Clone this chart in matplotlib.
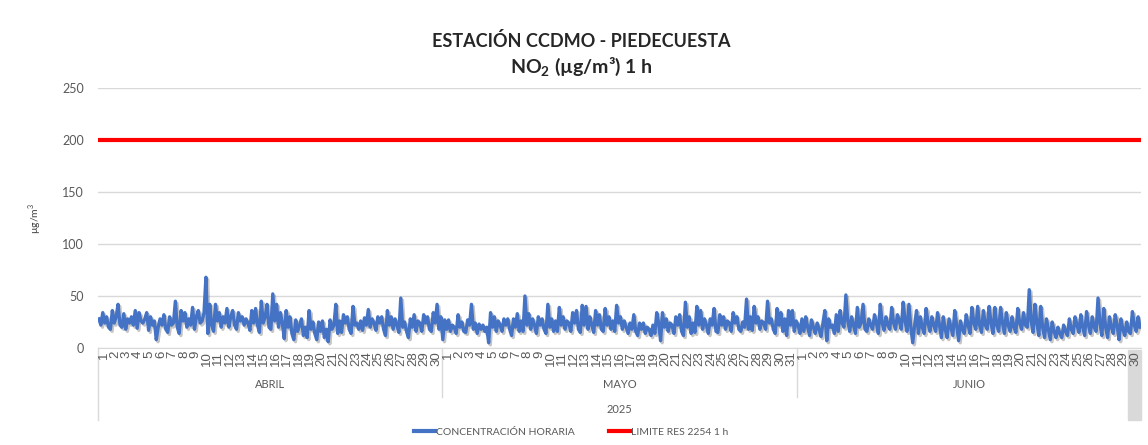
import matplotlib
matplotlib.use("Agg")
import matplotlib.pyplot as plt
import matplotlib.patheffects as pe
from matplotlib.patches import Rectangle
from matplotlib.lines import Line2D
import matplotlib.transforms as mtrans
import numpy as np

# NO2 horario, 6 lecturas por dia (cada 4 h), estimadas del grafico
abril = [28, 22, 34, 24, 30, 20,  18, 36, 24, 30, 42, 22,  20, 33, 18, 28, 24, 30,
         22, 36, 19, 34, 26, 24,  28, 34, 17, 30, 22, 26,  8, 20, 28, 22, 32, 18,
         15, 30, 22, 24, 45, 20,  14, 36, 26, 34, 20, 28,  22, 39, 18, 30, 36, 24,
         26, 34, 68, 14, 42, 22,  16, 42, 26, 34, 20, 30,  24, 38, 20, 30, 36, 22,
         18, 34, 26, 30, 22, 28,  24, 17, 36, 24, 38, 22,  15, 45, 24, 30, 42, 20,
         18, 52, 26, 42, 20, 34,  24, 9, 36, 20, 30, 14,  8, 27, 16, 22, 28, 12,
         20, 10, 36, 18, 25, 14,  8, 25, 16, 26, 10, 18,  6, 27, 18, 22, 42, 14,
         26, 15, 32, 24, 30, 18,  14, 40, 22, 24, 18, 26,  17, 29, 22, 37, 20, 28,
         24, 17, 30, 24, 30, 18,  12, 36, 22, 30, 18, 28,  22, 15, 48, 20, 25, 16,
         10, 28, 20, 32, 16, 26,  24, 16, 32, 24, 30, 18,  16, 34, 24, 42, 18, 30]
mayo = [8, 27, 18, 27, 16, 22,  20, 14, 32, 20, 25, 16,  15, 27, 22, 42, 18, 24,
        14, 23, 18, 22, 16, 20,  5, 34, 20, 30, 16, 26,  22, 16, 28, 22, 28, 18,
        12, 28, 20, 33, 16, 26,  16, 50, 22, 33, 18, 28,  22, 14, 30, 22, 28, 18,
        14, 42, 20, 28, 16, 26,  16, 39, 22, 30, 18, 26,  24, 16, 34, 24, 36, 18,
        15, 41, 22, 40, 18, 30,  22, 15, 36, 22, 32, 18,  16, 38, 22, 30, 18, 26,
        16, 41, 24, 30, 18, 26,  20, 14, 24, 18, 32, 16,  12, 24, 18, 24, 14, 20,
        18, 12, 22, 14, 34, 24,  7, 34, 20, 28, 16, 24,  22, 14, 30, 22, 32, 16,
        12, 44, 20, 30, 14, 24,  15, 40, 22, 36, 18, 28,  22, 14, 28, 22, 38, 16,
        15, 32, 22, 30, 18, 26,  24, 16, 34, 24, 30, 18,  16, 25, 20, 47, 18, 30,
        17, 40, 24, 30, 18, 26,  24, 18, 45, 24, 28, 18,  14, 38, 22, 34, 16, 28,
        12, 36, 22, 36, 16, 26]
junio = [22, 14, 28, 16, 30, 20,  12, 27, 20, 14, 24, 18,  11, 24, 36, 7, 28, 20,
         22, 14, 32, 16, 36, 24,  20, 51, 26, 16, 30, 22,  14, 39, 20, 24, 42, 18,
         16, 28, 22, 18, 32, 24,  14, 42, 24, 17, 30, 22,  18, 39, 24, 18, 32, 26,
         18, 44, 26, 16, 42, 20,  5, 22, 36, 14, 30, 20,  14, 38, 24, 16, 30, 22,
         16, 34, 22, 10, 30, 18,  10, 28, 20, 12, 36, 22,  7, 26, 18, 14, 32, 22,
         14, 39, 24, 18, 40, 22,  15, 36, 22, 18, 40, 24,  14, 39, 22, 16, 39, 24,
         14, 34, 22, 16, 30, 20,  15, 38, 24, 18, 34, 22,  20, 56, 26, 15, 42, 24,
         12, 40, 20, 10, 28, 18,  8, 25, 16, 10, 20, 14,  10, 22, 16, 12, 28, 18,
         14, 30, 22, 15, 32, 20,  12, 35, 22, 14, 30, 20,  16, 48, 24, 12, 38, 20,
         10, 30, 20, 14, 32, 22,  8, 28, 18, 12, 25, 16,  14, 35, 22, 16, 30, 20]
meses = ["ABRIL", "MAYO", "JUNIO"]
dias_mes = [30, 31, 30]
limite = 200
anio = "2025"
lecturas_dia = 6

plt.rcParams['font.family'] = ['Lato', 'DejaVu Sans']
plt.rcParams['mathtext.fontset'] = 'custom'
plt.rcParams['mathtext.rm'] = 'Lato'
plt.rcParams['mathtext.bf'] = 'Lato:bold'

gris = '#595959'
linea = '#d9d9d9'

conc = np.array(abril + mayo + junio, dtype=float)
x = (np.arange(len(conc)) + 0.5) / lecturas_dia
ndias = sum(dias_mes)

fig = plt.figure(figsize=(11.48, 4.45), dpi=100)
W, H = 1148, 445
ax = fig.add_axes([98 / W, 1 - 348 / H, (1141 - 98) / W, (348 - 88) / H])

ax.plot(x, conc, color='#4472c4', lw=2.4, solid_joinstyle='round',
        path_effects=[pe.SimpleLineShadow(offset=(1.2, -1.5), shadow_color='#7f7f7f', alpha=0.45),
                      pe.Normal()], zorder=3)
ax.plot([0, ndias], [limite, limite], color='#ff0000', lw=3, zorder=3)

ax.set_xlim(0, ndias)
ax.set_ylim(0, 250)
ax.set_yticks(np.arange(0, 251, 50))
ax.tick_params(axis='y', length=0, labelsize=9, labelcolor=gris, pad=10)
ax.set_xticks([])
ax.grid(axis='y', color=linea, lw=1)
ax.set_axisbelow(True)
for s in ['top', 'right', 'left']:
    ax.spines[s].set_visible(False)
ax.spines['bottom'].set_color(linea)

# etiquetas de categoria en varios niveles
tr = mtrans.blended_transform_factory(ax.transData, ax.transAxes)
inicio = 0
for mes, n in zip(meses, dias_mes):
    for d in range(1, n + 1):
        ax.text(inicio + d - 0.5, -0.012, str(d), transform=tr, rotation=90,
                ha='center', va='top', fontsize=9.5, color=gris, clip_on=False,
                family='Liberation Sans', zorder=5)
    ax.text(inicio + n / 2, -0.142, mes, transform=tr, ha='center', va='center',
            fontsize=8, color=gris, clip_on=False)
    inicio += n
    if inicio < ndias:
        ax.add_line(Line2D([inicio, inicio], [0, -0.188], transform=tr, color=linea,
                           lw=1, clip_on=False))
ax.add_line(Line2D([0, 0], [0, -0.277], transform=tr, color=linea, lw=1, clip_on=False))
ax.text(ndias / 2, -0.238, anio, transform=tr, ha='center', va='center',
        fontsize=8, color=gris, clip_on=False)

fig.patches.append(Rectangle((1128 / W, 1 - 420 / H), 13 / W, 70 / H,
                             transform=fig.transFigure, color='#d9d9d9', zorder=-1))

fig.text(35 / W, 1 - 218 / H, 'µg/m$^3$', rotation=90, ha='center', va='center',
         fontsize=7.5, color='#404040')

fig.text(581 / W, 1 - 41 / H, 'ESTACIÓN CCDMO - PIEDECUESTA', ha='center', va='center',
         fontsize=13, fontweight='bold', color='#262626')
fig.text(581 / W, 1 - 67 / H, r'NO$_\mathbf{2}$ (µg/m³) 1 h', ha='center', va='center',
         fontsize=14, fontweight='bold', color='#262626')

series = [('CONCENTRACIÓN HORARIA', '#4472c4', 414), ('LIMITE RES 2254 1 h', '#ff0000', 609)]
for nombre, color, px in series:
    fig.legend([Line2D([], [], color=color, lw=3)], [nombre], loc='center left',
               bbox_to_anchor=(px / W, 1 - 432 / H), frameon=False, fontsize=7.5,
               labelcolor=gris, handlelength=2.0, handletextpad=0.1,
               borderpad=0, borderaxespad=0)

fig.savefig('out.png', dpi=100)
